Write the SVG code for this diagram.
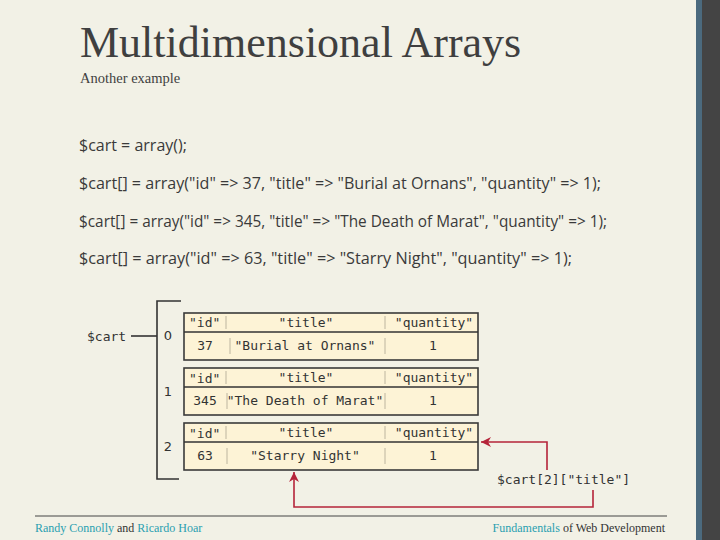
<svg xmlns="http://www.w3.org/2000/svg" width="720" height="540" viewBox="0 0 720 540">
<defs>
<style>
.title{font-family:"Liberation Serif",serif;font-size:44px;fill:#3f3f3f}
.sub{font-family:"Liberation Serif",serif;font-size:14.5px;fill:#3f3f3f}
.code{font-family:"Open Sans","Liberation Sans",sans-serif;font-size:16px;fill:#3a3a3a}
.mono{font-family:"DejaVu Sans Mono",monospace;font-size:13px;fill:#333}
.idx{font-family:"DejaVu Sans",sans-serif;font-size:13px;fill:#333}
.tbl{fill:#fdf3d6;stroke:#3a3a3a;stroke-width:1.6}
.sep{stroke:#c8c0a8;stroke-width:1.2}
.blk{stroke:#333;stroke-width:1.6;fill:none}
.red{stroke:#b5243a;stroke-width:1.6;fill:none}
.foot{font-family:"Liberation Serif",serif;font-size:12px;fill:#333}
.teal{fill:#2a9fb0}
</style>
<marker id="ah" viewBox="0 0 10 10" refX="10" refY="5" markerWidth="10" markerHeight="10" markerUnits="userSpaceOnUse" orient="auto">
<path d="M0,0 L10,5 L0,10 L3,5 Z" fill="#b5243a"/>
</marker>
</defs>
<rect x="0" y="0" width="720" height="540" fill="#f2f1e6"/>
<rect x="696" y="0" width="6" height="540" fill="#4b6a7e"/>
<rect x="702" y="0" width="18" height="540" fill="#444"/>

<text class="title" x="80" y="57">Multidimensional Arrays</text>
<text class="sub" x="80" y="83">Another example</text>

<text class="code" x="79" y="151">$cart = array();</text>
<text class="code" x="79" y="189" textLength="522" lengthAdjust="spacingAndGlyphs">$cart[] = array("id" =&gt; 37, "title" =&gt; "Burial at Ornans", "quantity" =&gt; 1);</text>
<text class="code" x="79" y="227" textLength="528" lengthAdjust="spacingAndGlyphs">$cart[] = array("id" =&gt; 345, "title" =&gt; "The Death of Marat", "quantity" =&gt; 1);</text>
<text class="code" x="79" y="264" textLength="493" lengthAdjust="spacingAndGlyphs">$cart[] = array("id" =&gt; 63, "title" =&gt; "Starry Night", "quantity" =&gt; 1);</text>

<g id="cart-label">
<text class="mono" x="87" y="341">$cart</text>
</g>
<g id="connectors">
<line class="blk" x1="131" y1="336" x2="157" y2="336"/>
<path class="blk" d="M181,301 H157 V479 H179"/>
<path class="red" d="M547,470 V442 H481" marker-end="url(#ah)"/>
<path class="red" d="M593,490 V507 H294 V472" marker-end="url(#ah)"/>
</g>

<g id="indexes">
<text class="idx" x="168" y="340" text-anchor="middle">0</text>
<text class="idx" x="168" y="396" text-anchor="middle">1</text>
<text class="idx" x="168" y="451" text-anchor="middle">2</text>
</g>

<g id="row0">
<rect class="tbl" x="184" y="313" width="294" height="47"/>
<line class="blk" x1="184" y1="332" x2="478" y2="332"/>
<line class="sep" x1="226" y1="316" x2="226" y2="329"/>
<line class="sep" x1="385" y1="316" x2="385" y2="329"/>
<line class="sep" x1="230" y1="338" x2="230" y2="354"/>
<line class="sep" x1="385" y1="338" x2="385" y2="354"/>
<text class="mono" x="189" y="327">"id"</text>
<text class="mono" x="306" y="327" text-anchor="middle">"title"</text>
<text class="mono" x="434" y="327" text-anchor="middle">"quantity"</text>
<text class="mono" x="205" y="350" text-anchor="middle">37</text>
<text class="mono" x="305" y="350" text-anchor="middle">"Burial at Ornans"</text>
<text class="mono" x="433" y="350" text-anchor="middle">1</text>
</g>

<g id="row1">
<rect class="tbl" x="184" y="368" width="294" height="47"/>
<line class="blk" x1="184" y1="387" x2="478" y2="387"/>
<line class="sep" x1="226" y1="371" x2="226" y2="384"/>
<line class="sep" x1="385" y1="371" x2="385" y2="384"/>
<line class="sep" x1="227" y1="393" x2="227" y2="409"/>
<line class="sep" x1="385" y1="393" x2="385" y2="409"/>
<text class="mono" x="189" y="383">"id"</text>
<text class="mono" x="306" y="382" text-anchor="middle">"title"</text>
<text class="mono" x="434" y="382" text-anchor="middle">"quantity"</text>
<text class="mono" x="205" y="405" text-anchor="middle">345</text>
<text class="mono" x="305" y="405" text-anchor="middle">"The Death of Marat"</text>
<text class="mono" x="433" y="405" text-anchor="middle">1</text>
</g>

<g id="row2">
<rect class="tbl" x="184" y="423" width="294" height="47"/>
<line class="blk" x1="184" y1="442" x2="478" y2="442"/>
<line class="sep" x1="226" y1="426" x2="226" y2="439"/>
<line class="sep" x1="385" y1="426" x2="385" y2="439"/>
<line class="sep" x1="227" y1="448" x2="227" y2="464"/>
<line class="sep" x1="385" y1="448" x2="385" y2="464"/>
<text class="mono" x="189" y="438">"id"</text>
<text class="mono" x="306" y="437" text-anchor="middle">"title"</text>
<text class="mono" x="434" y="437" text-anchor="middle">"quantity"</text>
<text class="mono" x="205" y="460" text-anchor="middle">63</text>
<text class="mono" x="305" y="460" text-anchor="middle">"Starry Night"</text>
<text class="mono" x="433" y="460" text-anchor="middle">1</text>
</g>

<g id="access-label">
<text class="mono" x="497" y="484">$cart[2]["title"]</text>
</g>

<line x1="35" y1="516" x2="667" y2="516" stroke="#444" stroke-width="1"/>
<text class="foot" x="35" y="532"><tspan class="teal">Randy Connolly</tspan> and <tspan class="teal">Ricardo Hoar</tspan></text>
<text class="foot" x="665" y="532" text-anchor="end"><tspan class="teal">Fundamentals</tspan> of Web Development</text>
</svg>
